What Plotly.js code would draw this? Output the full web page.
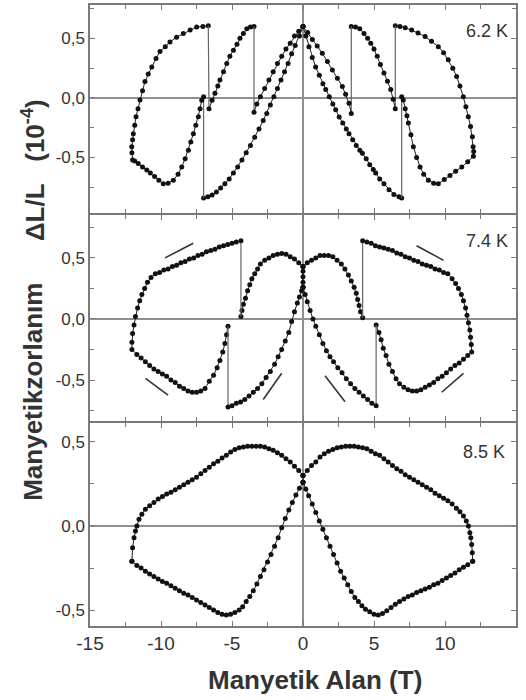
<!DOCTYPE html>
<html>
<head>
<meta charset="utf-8">
<script src="https://cdn.plot.ly/plotly-3.0.1.min.js"></script>
<style>html,body{margin:0;padding:0;background:#fff;}#chart{width:526px;height:700px;}</style>
</head>
<body>
<div id="chart"></div>
<script>
// ---------- tick labels ----------
const xTickVals = [-15, -10, -5, 0, 5, 10, 15];
const xTickText = ['-15', '-10', '-5', '0', '5', '10', '15'];
const yTickVals = [-0.5, 0, 0.5];
const yTickText = ['-0,5', '0,0', '0,5'];
const panelLabels = ['6.2 K', '7.4 K', '8.5 K'];
const panelLabelY = [0.56, 0.635, 0.44];

// ---------- Panel 1 : 6.2 K ----------
const p1LaX = [0,-0.25,-0.55,-0.8,-1.05,-1.3,-1.55,-1.8,-2.05,-2.3,-2.55,-2.8,-3.1,-3.4,-3.7,-4.0,-4.3,-4.6,-4.9,-5.2,-5.5,-5.8,-6.1,-6.4,-6.7,-7.0];
const p1LaY = [0.60,0.52,0.44,0.37,0.29,0.22,0.15,0.08,0.01,-0.06,-0.13,-0.19,-0.26,-0.33,-0.40,-0.46,-0.52,-0.58,-0.63,-0.68,-0.72,-0.755,-0.79,-0.815,-0.83,-0.84];
const p1LbX = [-7.0,-7.13,-7.25,-7.37,-7.55,-7.72,-7.9,-8.07,-8.3,-8.54,-8.8,-9.13,-9.5,-9.84,-10.15,-10.45,-10.75,-11.0,-11.3,-11.6,-11.85,-12.0,-12.05,-12.06,-12.0,-11.95,-11.85,-11.76,-11.62,-11.48,-11.3,-11.13,-10.9,-10.65,-10.35,-10.07,-9.7,-9.37,-8.9,-8.43,-7.95,-7.49,-7.05,-6.67];
const p1LbY = [0.01,-0.02,-0.09,-0.157,-0.23,-0.30,-0.37,-0.44,-0.51,-0.58,-0.64,-0.69,-0.715,-0.72,-0.69,-0.66,-0.63,-0.605,-0.58,-0.55,-0.53,-0.52,-0.46,-0.41,-0.35,-0.30,-0.23,-0.157,-0.09,-0.017,0.06,0.137,0.20,0.26,0.33,0.39,0.43,0.47,0.51,0.54,0.57,0.595,0.60,0.605];
const p1LdX = [-6.62,-6.4,-6.2,-6.0,-5.85,-5.6,-5.37,-5.15,-4.9,-4.65,-4.44,-4.2,-3.96,-3.7,-3.45];
const p1LdY = [-0.09,-0.02,0.04,0.10,0.15,0.22,0.29,0.35,0.40,0.45,0.50,0.54,0.58,0.595,0.60];
const p1LeX = [-3.45,-3.25,-3.0,-2.7,-2.4,-2.1,-1.8,-1.5,-1.2,-0.9,-0.6,-0.3,0];
const p1LeY = [-0.12,-0.05,0.01,0.08,0.15,0.22,0.29,0.35,0.41,0.46,0.52,0.56,0.60];
const p1RaX = [0,0.2,0.42,0.65,0.89,1.15,1.4,1.6,1.85,2.1,2.3,2.55,2.8,3.05,3.24,3.5,3.75,4.0,4.18,4.45,4.7,4.95,5.12,5.4,5.7,6.06,6.4,6.76,6.95];
const p1RaY = [0.60,0.52,0.43,0.34,0.26,0.19,0.12,0.07,0.01,-0.05,-0.10,-0.16,-0.21,-0.26,-0.30,-0.35,-0.40,-0.44,-0.465,-0.51,-0.56,-0.60,-0.63,-0.68,-0.72,-0.77,-0.81,-0.83,-0.84];
const p1RbX = [6.95,7.06,7.2,7.32,7.42,7.6,7.77,8.0,8.24,8.5,8.83,9.2,9.53,9.95,10.35,10.75,11.18,11.6,12.0,12.02,11.98,11.93,11.8,11.64,11.47,11.29,11.05,10.82,10.55,10.23,9.9,9.53,9.05,8.6,8.1,7.65,7.2,6.83,6.5];
const p1RbY = [0.01,-0.017,-0.09,-0.15,-0.21,-0.31,-0.41,-0.50,-0.58,-0.64,-0.69,-0.715,-0.72,-0.685,-0.65,-0.615,-0.58,-0.535,-0.49,-0.45,-0.41,-0.325,-0.24,-0.157,-0.075,0.01,0.10,0.18,0.25,0.32,0.38,0.43,0.475,0.515,0.545,0.57,0.59,0.60,0.605];
const p1RdX = [6.5,6.35,6.18,5.95,5.7,5.45,5.23,5.0,4.77,4.55,4.3,4.0,3.7,3.4];
const p1RdY = [-0.09,-0.01,0.07,0.14,0.21,0.28,0.35,0.41,0.46,0.50,0.54,0.58,0.595,0.60];
const p1ReX = [3.4,3.24,3.0,2.77,2.42,2.07,1.72,1.36,1.0,0.66,0.33,0];
const p1ReY = [-0.13,-0.045,0.03,0.095,0.165,0.235,0.305,0.375,0.435,0.49,0.55,0.60];

// ---------- Panel 2 : 7.4 K ----------
const p2LaX = [0,-0.3,-0.6,-0.9,-1.2,-1.5,-1.8,-2.1,-2.4,-2.7,-3.0,-3.2,-3.4,-3.6,-3.75,-3.9,-4.05,-4.2,-4.3,-4.37];
const p2LaY = [0.43,0.46,0.49,0.51,0.53,0.535,0.53,0.52,0.50,0.48,0.45,0.41,0.37,0.33,0.28,0.23,0.17,0.12,0.07,0.02];
const p2LbX = [-4.37,-4.7,-5.0,-5.3,-5.6,-5.9,-6.2,-6.5,-6.8,-7.1,-7.4,-7.7,-8.0,-8.3,-8.6,-8.9,-9.2,-9.5,-9.8,-10.1,-10.4,-10.7,-10.95,-11.15,-11.35,-11.5,-11.65,-11.8,-11.9,-12.0,-12.05,-12.05,-11.7,-11.4,-11.1,-10.8,-10.5,-10.2,-9.9,-9.6,-9.3,-9.0,-8.7,-8.4,-8.1,-7.8,-7.5,-7.2,-6.9,-6.6,-6.3,-6.05,-5.85,-5.65,-5.5,-5.38,-5.28];
const p2LbY = [0.64,0.63,0.62,0.61,0.60,0.59,0.57,0.56,0.55,0.53,0.52,0.50,0.49,0.47,0.46,0.44,0.43,0.41,0.40,0.38,0.37,0.34,0.30,0.25,0.20,0.15,0.09,0.02,-0.05,-0.12,-0.19,-0.25,-0.29,-0.32,-0.35,-0.38,-0.41,-0.43,-0.45,-0.47,-0.50,-0.52,-0.55,-0.57,-0.59,-0.60,-0.60,-0.59,-0.57,-0.51,-0.46,-0.40,-0.34,-0.27,-0.20,-0.13,-0.06];
const p2LcX = [-5.28,-5.0,-4.7,-4.4,-4.1,-3.8,-3.5,-3.2,-2.9,-2.6,-2.3,-2.0,-1.75,-1.5,-1.25,-1.0,-0.8,-0.6,-0.4,-0.25,-0.1,0];
const p2LcY = [-0.72,-0.71,-0.69,-0.68,-0.66,-0.63,-0.60,-0.57,-0.53,-0.48,-0.43,-0.37,-0.31,-0.25,-0.18,-0.11,-0.02,0.06,0.13,0.18,0.23,0.26];
const p2CX = [0,0,0,0,0];
const p2CY = [0.26,0.30,0.345,0.39,0.43];
const p2RaX = [0,0.3,0.6,0.9,1.2,1.5,1.8,2.1,2.4,2.7,2.95,3.2,3.4,3.6,3.75,3.85,3.95,4.05,4.2];
const p2RaY = [0.43,0.46,0.48,0.50,0.52,0.52,0.52,0.51,0.48,0.45,0.41,0.36,0.31,0.26,0.21,0.16,0.11,0.06,0.01];
const p2RbX = [4.2,4.5,4.8,5.1,5.4,5.7,6.0,6.3,6.6,6.9,7.2,7.5,7.8,8.1,8.4,8.7,9.0,9.3,9.6,9.9,10.2,10.5,10.75,10.95,11.15,11.3,11.45,11.55,11.65,11.75,11.8,11.85,11.88,11.6,11.3,11.0,10.7,10.4,10.1,9.8,9.5,9.2,8.9,8.6,8.3,8.0,7.7,7.4,7.1,6.8,6.55,6.3,6.05,5.85,5.65,5.5,5.35,5.15];
const p2RbY = [0.64,0.63,0.62,0.60,0.59,0.58,0.57,0.56,0.54,0.53,0.51,0.50,0.48,0.47,0.45,0.44,0.43,0.41,0.40,0.38,0.37,0.33,0.29,0.25,0.20,0.15,0.09,0.03,-0.03,-0.09,-0.15,-0.21,-0.27,-0.30,-0.33,-0.36,-0.38,-0.41,-0.44,-0.47,-0.49,-0.52,-0.54,-0.56,-0.58,-0.59,-0.59,-0.58,-0.56,-0.53,-0.49,-0.43,-0.37,-0.30,-0.24,-0.17,-0.11,-0.05];
const p2RcX = [5.15,4.85,4.55,4.25,3.95,3.65,3.35,3.05,2.75,2.45,2.15,1.9,1.65,1.4,1.15,0.9,0.7,0.5,0.3,0.15,0];
const p2RcY = [-0.71,-0.69,-0.66,-0.63,-0.60,-0.57,-0.53,-0.49,-0.44,-0.40,-0.35,-0.31,-0.26,-0.20,-0.13,-0.06,0.0,0.07,0.14,0.20,0.26];
// direction strokes in panel 2 (start / end of each stroke)
const arrowX0 = [-9.72, -11.1, -2.8, 8.0, 1.55, 9.77];
const arrowY0 = [0.50, -0.486, -0.66, 0.60, -0.465, -0.60];
const arrowX1 = [-7.73, -9.5, -1.5, 9.9, 2.96, 11.3];
const arrowY1 = [0.62, -0.623, -0.445, 0.48, -0.678, -0.445];

// ---------- Panel 3 : 8.5 K ----------
const p3LaX = [0,-0.3,-0.6,-0.9,-1.2,-1.5,-1.8,-2.1,-2.4,-2.7,-3.0,-3.3,-3.6,-3.9,-4.2,-4.5,-4.8,-5.1,-5.4,-5.7,-6.0,-6.3,-6.6,-6.9,-7.2,-7.5,-7.8,-8.1,-8.4,-8.7,-9.0,-9.3,-9.6,-9.9,-10.2,-10.5,-10.8,-11.1,-11.35,-11.55,-11.7,-11.8,-11.9,-12.0,-12.05];
const p3LaY = [0.30,0.33,0.355,0.38,0.40,0.42,0.435,0.45,0.46,0.47,0.475,0.475,0.475,0.475,0.47,0.465,0.455,0.44,0.42,0.405,0.385,0.37,0.35,0.33,0.31,0.29,0.275,0.26,0.245,0.23,0.215,0.20,0.19,0.175,0.16,0.14,0.12,0.10,0.07,0.04,0.0,-0.03,-0.07,-0.13,-0.21];
const p3LbX = [-12.05,-11.7,-11.4,-11.1,-10.8,-10.5,-10.2,-9.9,-9.6,-9.3,-9.0,-8.7,-8.4,-8.1,-7.8,-7.5,-7.2,-6.9,-6.6,-6.3,-6.0,-5.7,-5.4,-5.1,-4.8,-4.5,-4.25,-4.0,-3.75,-3.5,-3.25,-3.0,-2.75,-2.5,-2.25,-2.0,-1.75,-1.5,-1.25,-1.0,-0.75,-0.5,-0.25,0];
const p3LbY = [-0.21,-0.235,-0.25,-0.27,-0.285,-0.30,-0.315,-0.33,-0.34,-0.355,-0.37,-0.385,-0.40,-0.41,-0.425,-0.44,-0.455,-0.47,-0.485,-0.50,-0.515,-0.525,-0.53,-0.525,-0.515,-0.50,-0.48,-0.45,-0.42,-0.385,-0.345,-0.30,-0.26,-0.215,-0.17,-0.12,-0.07,-0.01,0.045,0.095,0.14,0.185,0.225,0.26];
const p3CX = [0,0];
const p3CY = [0.26,0.30];
const p3RaX = [0,0.3,0.6,0.9,1.2,1.5,1.8,2.1,2.4,2.7,3.0,3.3,3.6,3.9,4.2,4.5,4.8,5.1,5.4,5.7,6.0,6.3,6.6,6.9,7.2,7.5,7.8,8.1,8.4,8.7,9.0,9.3,9.6,9.9,10.2,10.5,10.8,11.05,11.3,11.5,11.65,11.75,11.82,11.88,11.92,11.95];
const p3RaY = [0.30,0.33,0.36,0.38,0.41,0.43,0.445,0.455,0.465,0.47,0.475,0.475,0.475,0.47,0.465,0.46,0.445,0.43,0.42,0.40,0.38,0.36,0.34,0.325,0.305,0.29,0.275,0.26,0.245,0.23,0.215,0.195,0.18,0.165,0.15,0.13,0.105,0.085,0.06,0.03,0.0,-0.04,-0.07,-0.11,-0.16,-0.21];
const p3RbX = [11.95,11.6,11.3,11.0,10.7,10.4,10.1,9.8,9.5,9.2,8.9,8.6,8.3,8.0,7.7,7.4,7.1,6.8,6.5,6.2,5.9,5.6,5.3,5.0,4.7,4.4,4.15,3.9,3.65,3.4,3.15,2.9,2.65,2.4,2.15,1.9,1.65,1.4,1.15,0.9,0.65,0.4,0.2,0];
const p3RbY = [-0.21,-0.23,-0.245,-0.26,-0.28,-0.295,-0.31,-0.325,-0.34,-0.35,-0.365,-0.375,-0.385,-0.395,-0.41,-0.42,-0.435,-0.45,-0.465,-0.485,-0.505,-0.52,-0.53,-0.525,-0.51,-0.495,-0.475,-0.45,-0.425,-0.39,-0.35,-0.31,-0.27,-0.22,-0.17,-0.12,-0.07,-0.02,0.03,0.08,0.13,0.18,0.22,0.26];

// ---------- build ----------
// chains: consecutive segments are joined by a thin vertical "jump" line
const panels = [
  {xa: 'x',  ya: 'y',  chains: [
    [[p1LaX,p1LaY],[p1LbX,p1LbY],[p1LdX,p1LdY],[p1LeX,p1LeY]],
    [[p1RaX,p1RaY],[p1RbX,p1RbY],[p1RdX,p1RdY],[p1ReX,p1ReY]]]},
  {xa: 'x2', ya: 'y2', chains: [
    [[p2LaX,p2LaY],[p2LbX,p2LbY],[p2LcX,p2LcY]],
    [[p2RaX,p2RaY],[p2RbX,p2RbY],[p2RcX,p2RcY]],
    [[p2CX,p2CY]]]},
  {xa: 'x3', ya: 'y3', chains: [
    [[p3LaX,p3LaY]], [[p3LbX,p3LbY]], [[p3RaX,p3RaY]], [[p3RbX,p3RbY]], [[p3CX,p3CY]]]}
];

const traces = [];
panels.forEach(p => {
  p.chains.forEach(chain => {
    chain.forEach((seg, i) => {
      if (i > 0) {
        const prev = chain[i-1];
        traces.push({
          x: [prev[0][prev[0].length-1], seg[0][0]],
          y: [prev[1][prev[1].length-1], seg[1][0]],
          xaxis: p.xa, yaxis: p.ya, mode: 'lines',
          line: {color: '#666', width: 1.2}, hoverinfo: 'skip'
        });
      }
      traces.push({
        x: seg[0], y: seg[1], xaxis: p.xa, yaxis: p.ya,
        mode: 'lines+markers',
        line: {color: '#222', width: 1},
        marker: {color: '#111', size: 5},
        hoverinfo: 'skip'
      });
    });
  });
});

const font = 'Arial, "Liberation Sans", sans-serif';
const frame = '#7a7a7a';
function xAxis(anchor, showLabels) {
  return {
    domain: [0, 1], anchor: anchor, range: [-15, 15],
    tickvals: xTickVals, ticktext: xTickText, showticklabels: showLabels,
    ticks: 'inside', ticklen: 5, tickcolor: frame, tickwidth: 1,
    minor: {dtick: 2.5, tick0: 0, ticks: 'inside', ticklen: 4, tickcolor: frame},
    showline: true, mirror: 'allticks', linecolor: frame, linewidth: 1.6,
    showgrid: false, zeroline: true, zerolinecolor: '#8f8f8f', zerolinewidth: 1.3,
    tickfont: {family: font, size: 19, color: '#333'}
  };
}
function yAxis(domain, anchor, range) {
  return {
    domain: domain, anchor: anchor, range: range,
    tickvals: yTickVals, ticktext: yTickText,
    ticks: 'inside', ticklen: 5, tickcolor: frame, tickwidth: 1,
    minor: {dtick: 0.25, tick0: 0, ticks: 'inside', ticklen: 4, tickcolor: frame},
    showline: true, mirror: 'allticks', linecolor: frame, linewidth: 1.6,
    showgrid: false, zeroline: true, zerolinecolor: '#8f8f8f', zerolinewidth: 1.3,
    tickfont: {family: font, size: 17, color: '#333'}
  };
}

const shapes = arrowX0.map((x0, i) => ({
  type: 'line', xref: 'x2', yref: 'y2',
  x0: x0, y0: arrowY0[i], x1: arrowX1[i], y1: arrowY1[i],
  line: {color: '#333', width: 1.6}
}));

const labelFont = {family: font, size: 18, color: '#333'};
const titleFont = {family: font, size: 26, color: '#333'};
const annotations = [
  {text: panelLabels[0], xref: 'x', yref: 'y', x: 14.6, y: panelLabelY[0], xanchor: 'right', yanchor: 'middle', showarrow: false, font: labelFont},
  {text: panelLabels[1], xref: 'x2', yref: 'y2', x: 14.6, y: panelLabelY[1], xanchor: 'right', yanchor: 'middle', showarrow: false, font: labelFont},
  {text: panelLabels[2], xref: 'x3', yref: 'y3', x: 14.4, y: panelLabelY[2], xanchor: 'right', yanchor: 'middle', showarrow: false, font: labelFont},
  {text: '<b>Manyetik Alan (T)</b>', xref: 'paper', yref: 'paper', x: 0.528, y: -0.087, xanchor: 'center', yanchor: 'middle', showarrow: false, font: titleFont},
  {text: '<b>ΔL/L\u00A0\u00A0\u00A0(10<sup>-4</sup>)</b>', xref: 'paper', yref: 'paper', x: -0.134, y: 0.734, xanchor: 'center', yanchor: 'middle', textangle: -90, showarrow: false, font: titleFont},
  {text: '<b>Manyetikzorlanım</b>', xref: 'paper', yref: 'paper', x: -0.134, y: 0.377, xanchor: 'center', yanchor: 'middle', textangle: -90, showarrow: false, font: titleFont}
];

const layout = {
  width: 526, height: 700,
  margin: {l: 90, r: 10, t: 5, b: 74},
  paper_bgcolor: '#fff', plot_bgcolor: '#fff',
  showlegend: false,
  xaxis: xAxis('y', false),
  xaxis2: xAxis('y2', false),
  xaxis3: xAxis('y3', true),
  yaxis: yAxis([0.665, 1], 'x', [-0.966, 0.78]),
  yaxis2: yAxis([0.330, 0.662], 'x2', [-0.836, 0.852]),
  yaxis3: yAxis([0, 0.327], 'x3', [-0.595, 0.613]),
  shapes: shapes,
  annotations: annotations,
  font: {family: font}
};

Plotly.newPlot('chart', traces, layout, {displayModeBar: false, staticPlot: true});
</script>
</body>
</html>
